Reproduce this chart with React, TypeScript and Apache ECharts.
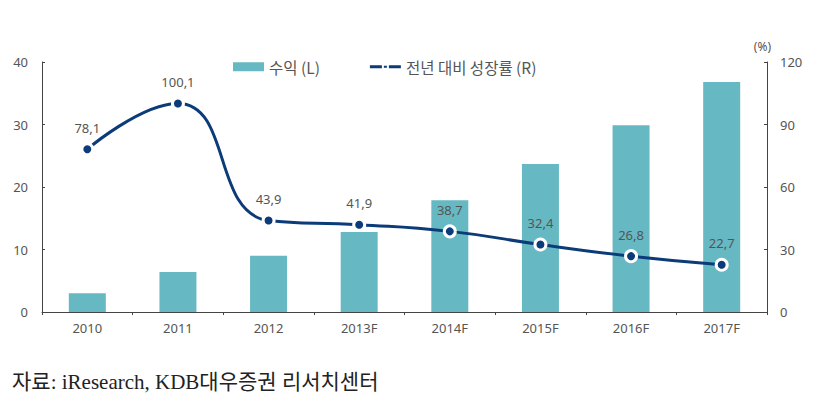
import React, { useEffect, useRef } from "react";
import * as echarts from "echarts";

const categories = ["2010", "2011", "2012", "2013F", "2014F", "2015F", "2016F", "2017F"];
const revenue = [3.0, 6.4, 9.0, 12.8, 17.9, 23.7, 29.9, 36.8];
const growth = [78.1, 100.1, 43.9, 41.9, 38.7, 32.4, 26.8, 22.7];
const leftTicks = { min: 0, max: 40, interval: 10 };
const rightTicks = { min: 0, max: 120, interval: 30 };

export default function App() {
  const ref = useRef<HTMLDivElement>(null);
  useEffect(() => {
    const chart = echarts.init(ref.current!, null, { renderer: "svg" });
    const axisText = { color: "#555", fontSize: 13, fontFamily: "Noto Sans, sans-serif" };
    chart.setOption({
      animation: false,
      backgroundColor: "#fff",
      grid: { left: 42, right: 55, top: 62, bottom: 95 },
      legend: {
        top: 54,
        left: 228,
        itemGap: 50,
        itemWidth: 31,
        itemHeight: 9,
        textStyle: { color: "#555", fontSize: 15.5, fontFamily: "Noto Sans CJK KR, sans-serif" },
        data: [
          { name: "수익 (L)", icon: "rect" },
          {
            name: "전년 대비 성장률 (R)",
            icon: "path://M0,3 L12,3 L12,6 L0,6 Z M14,3.5 L17,3.5 L17,5.5 L14,5.5 Z M19,3 L31,3 L31,6 L19,6 Z",
            itemStyle: { color: "#0b3b78", borderWidth: 0 },
          },
        ],
      },
      xAxis: {
        type: "category",
        data: categories,
        axisLine: { lineStyle: { color: "#444" } },
        axisTick: { show: true, length: 3, lineStyle: { color: "#444" } },
        axisLabel: { ...axisText, margin: 9 },
      },
      yAxis: [
        {
          type: "value",
          ...leftTicks,
          position: "left",
          axisLine: { show: true, lineStyle: { color: "#444" } },
          axisTick: { show: true, inside: true, length: 3, lineStyle: { color: "#444" } },
          splitLine: { show: false },
          axisLabel: { ...axisText, margin: 14 },
        },
        {
          type: "value",
          ...rightTicks,
          position: "right",
          name: "(%)",
          nameGap: 10,
          nameTextStyle: { ...axisText, fontSize: 12, align: "right", padding: [0, -4, 0, 0] },
          axisLine: { show: true, lineStyle: { color: "#444" } },
          axisTick: { show: true, inside: true, length: 3, lineStyle: { color: "#444" } },
          splitLine: { show: false },
          axisLabel: { ...axisText, margin: 13 },
        },
      ],
      series: [
        {
          name: "수익 (L)",
          type: "bar",
          data: revenue,
          barWidth: 37,
          itemStyle: { color: "#66b9c2" },
        },
        {
          name: "전년 대비 성장률 (R)",
          type: "line",
          yAxisIndex: 1,
          data: growth,
          smooth: 0.5,
          symbol: "circle",
          symbolSize: 11,
          lineStyle: { color: "#0b3b78", width: 3 },
          itemStyle: { color: "#0b3b78", borderColor: "#fff", borderWidth: 3 },
          label: {
            show: true,
            position: "top",
            distance: 8,
            color: "#555",
            fontSize: 13,
            fontFamily: "Noto Sans, sans-serif",
            formatter: (p: any) => String(p.value.toFixed(1)).replace(".", ","),
          },
          z: 5,
        },
      ],
      graphic: [
        {
          type: "text",
          left: 12,
          top: 371,
          style: {
            text: "자료: iResearch, KDB대우증권 리서치센터",
            fontSize: 21,
            fill: "#222",
            fontFamily: "Liberation Serif, Noto Sans CJK KR, serif",
          },
        },
      ],
    });
    return () => chart.dispose();
  }, []);
  return <div ref={ref} style={{ width: 822, height: 407, position: "absolute", left: 0, top: 0 }} />;
}
